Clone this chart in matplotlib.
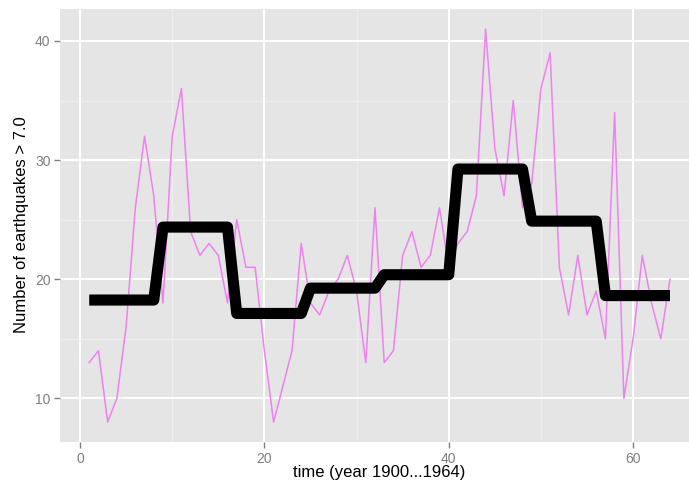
import numpy as np
import matplotlib.pyplot as plt

# yearly counts of major earthquakes (magnitude > 7.0), 1900-1963
counts = [13, 14, 8, 10, 16, 26, 32, 27, 18, 32, 36, 24, 22, 23, 22, 18,
          25, 21, 21, 14, 8, 11, 14, 23, 18, 17, 19, 20, 22, 19, 13, 26,
          13, 14, 22, 24, 21, 22, 26, 21, 23, 24, 27, 41, 31, 27, 35, 26,
          28, 36, 39, 21, 17, 22, 17, 19, 15, 34, 10, 15, 22, 18, 15, 20]
time = np.arange(1, len(counts) + 1)

# mean level within each 8-year block
block_means = [18.25, 24.375, 17.125, 19.25, 20.375, 29.25, 24.875, 18.625]
block_len = 8
level = np.repeat(block_means, block_len)

plt.rcParams['font.family'] = ['Liberation Sans', 'DejaVu Sans']

fig = plt.figure(figsize=(6.89, 4.87), dpi=100)
ax = fig.add_axes([60.2 / 689, 45.2 / 487, 638.8 / 689, 432.4 / 487])

ax.set_facecolor('#E5E5E5')
for s in ax.spines.values():
    s.set_visible(False)

ax.set_xlim(-2.15, 67.15)
ax.set_ylim(6.35, 42.65)
ax.set_xticks([0, 20, 40, 60])
ax.set_yticks([10, 20, 30, 40])
ax.set_xticks([10, 30, 50], minor=True)
ax.set_yticks([15, 25, 35], minor=True)

ax.grid(which='major', color='white', lw=1.4)
ax.grid(which='minor', color='#F0F0F0', lw=0.6)
ax.set_axisbelow(True)

ax.tick_params(which='major', colors='#7F7F7F', labelsize=10, length=4,
               width=1, pad=3)
ax.tick_params(which='minor', length=0)

ax.plot(time, counts, color='#EE82EE', lw=1.1)
ax.plot(time, level, color='black', lw=8, solid_joinstyle='round',
        solid_capstyle='butt')

fig.text(379.6 / 689, 1 - 473 / 487, 'time (year 1900...1964)',
         ha='center', va='center', fontsize=12)
fig.text(22 / 689, 1 - 225 / 487, 'Number of earthquakes > 7.0',
         ha='center', va='center', rotation=90, fontsize=12)

fig.savefig('out.png', dpi=100)
